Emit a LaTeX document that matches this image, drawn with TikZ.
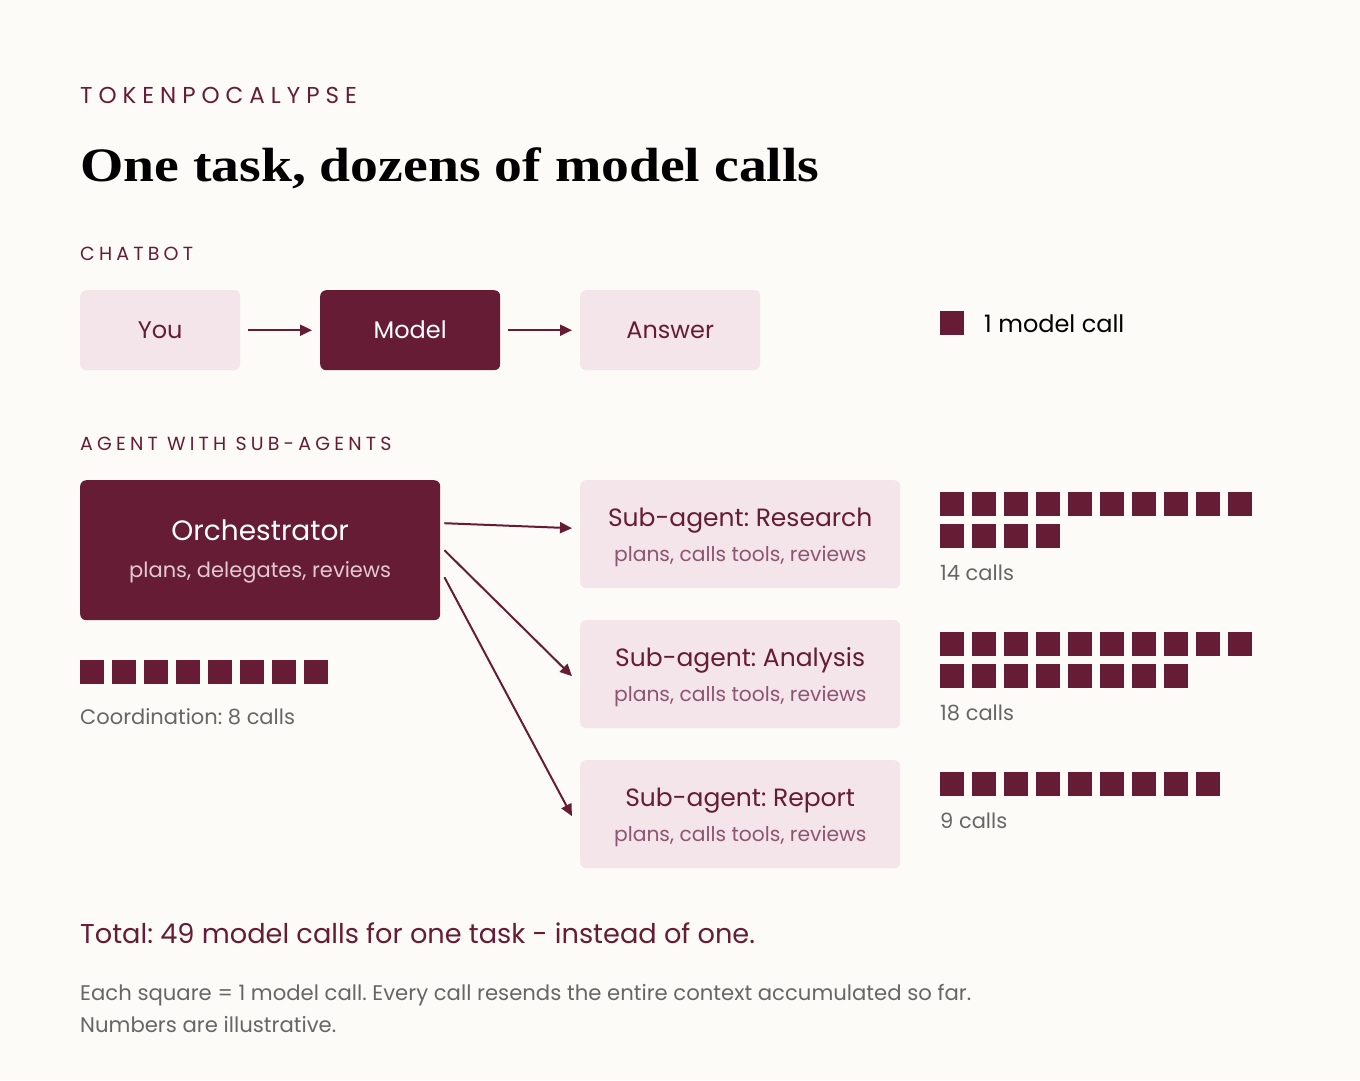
\documentclass[tikz,border=0pt]{standalone}
\usepackage{fontspec}
\setmainfont{Poppins}
\newfontfamily\titlefont{Liberation Serif}
\usetikzlibrary{arrows.meta,calc}
\frenchspacing
\definecolor{bg}{HTML}{FCFBF8}
\definecolor{wine}{HTML}{661C35}
\definecolor{blush}{HTML}{F3E5EA}
\definecolor{mauve}{HTML}{8E5570}
\definecolor{paleblush}{HTML}{E2C9D3}
\definecolor{greytext}{HTML}{666666}
\tikzset{
  x=1pt, y=-1pt,
  lightbox/.style={fill=blush, rounded corners=6pt, draw=none, inner sep=0pt, anchor=north west},
  darkbox/.style={fill=wine, rounded corners=6pt, draw=none, inner sep=0pt, anchor=north west},
  txt/.style={inner sep=0pt, anchor=base west},
  ctxt/.style={inner sep=0pt, anchor=base},
  flow/.style={draw=wine, line width=2pt, -{Triangle[length=12pt,width=11pt]}},
  sq/.style={fill=wine}
}
\newcommand{\sqrow}[3]{% x, y, count
  \foreach \i in {1,...,#3} {\fill[sq] ({#1+(\i-1)*32},#2) rectangle ++(24,24);}
}
\begin{document}
\begin{tikzpicture}
\useasboundingbox[fill=bg] (0,0) rectangle (1360,1080);

% header
\node[txt, text=wine] (kicker) at (80,103) {\fontsize{23}{26}\selectfont\addfontfeature{LetterSpace=26}TOKENPOCALYPSE};
\node[txt] (title) at (80,181) {\scalebox{1.16}[1]{\titlefont\bfseries\fontsize{48}{52}\selectfont One task, dozens of model calls}};

% chatbot
\node[txt, text=wine] (chatlbl) at (80,260) {\fontsize{19}{22}\selectfont\addfontfeature{LetterSpace=22}CHATBOT};
\node[lightbox, minimum width=160pt, minimum height=80pt] (you) at (80,290) {};
\node[ctxt, text=wine] at ($(you.center)+(0,8)$) {\fontsize{24}{28}\selectfont You};
\node[darkbox, minimum width=180pt, minimum height=80pt] (model) at (320,290) {};
\node[ctxt, text=white] at ($(model.center)+(0,8)$) {\fontsize{24}{28}\selectfont Model};
\node[lightbox, minimum width=180pt, minimum height=80pt] (answer) at (580,290) {};
\node[ctxt, text=wine] at ($(answer.center)+(0,8)$) {\fontsize{24}{28}\selectfont Answer};
\draw[flow, shorten <=8pt, shorten >=8pt] (you.east) -- (model.west);
\draw[flow, shorten <=8pt, shorten >=8pt] (model.east) -- (answer.west);

% legend
\fill[sq] (940,311) rectangle ++(24,24);
\node[txt, text=black] (legend) at (984,332) {\fontsize{24}{28}\selectfont 1 model call};

% agent
\node[txt, text=wine] (agentlbl) at (80,450) {\fontsize{19}{22}\selectfont\addfontfeature{LetterSpace=22}AGENT WITH SUB-AGENTS};
\node[darkbox, minimum width=360pt, minimum height=140pt] (orch) at (80,480) {};
\node[ctxt, text=white] at ($(orch.center)+(0,-10)$) {\fontsize{28}{32}\selectfont Orchestrator};
\node[ctxt, text=paleblush] at ($(orch.center)+(0,27)$) {\fontsize{21}{24}\selectfont plans, delegates, reviews};

\node[lightbox, minimum width=320pt, minimum height=108pt] (res) at (580,480) {};
\node[ctxt, text=wine] at ($(res.center)+(0,-8)$) {\fontsize{25}{28}\selectfont Sub-agent: Research};
\node[ctxt, text=mauve] at ($(res.center)+(0,27)$) {\fontsize{20.3}{24}\selectfont plans, calls tools, reviews};

\node[lightbox, minimum width=320pt, minimum height=108pt] (ana) at (580,620) {};
\node[ctxt, text=wine] at ($(ana.center)+(0,-8)$) {\fontsize{25}{28}\selectfont Sub-agent: Analysis};
\node[ctxt, text=mauve] at ($(ana.center)+(0,27)$) {\fontsize{20.3}{24}\selectfont plans, calls tools, reviews};

\node[lightbox, minimum width=320pt, minimum height=108pt] (rep) at (580,760) {};
\node[ctxt, text=wine] at ($(rep.center)+(0,-8)$) {\fontsize{25}{28}\selectfont Sub-agent: Report};
\node[ctxt, text=mauve] at ($(rep.center)+(0,27)$) {\fontsize{20.3}{24}\selectfont plans, calls tools, reviews};

\draw[flow] ($(orch.east)+(4,-27)$) -- ($(res.west)+(-8,-6)$);
\draw[flow] ($(orch.east)+(4,0)$) -- ($(ana.west)+(-8,2)$);
\draw[flow] ($(orch.east)+(4,27)$) -- ($(rep.west)+(-8,2)$);

% squares
\sqrow{80}{660}{8}
\node[txt, text=greytext] (coord) at (80,724) {\fontsize{21}{24}\selectfont Coordination: 8 calls};

\sqrow{940}{492}{10}
\sqrow{940}{524}{4}
\node[txt, text=greytext] (c14) at (940,580) {\fontsize{21}{24}\selectfont 14 calls};

\sqrow{940}{632}{10}
\sqrow{940}{664}{8}
\node[txt, text=greytext] (c18) at (940,720) {\fontsize{21}{24}\selectfont 18 calls};

\sqrow{940}{772}{9}
\node[txt, text=greytext] (c9) at (940,828) {\fontsize{21}{24}\selectfont 9 calls};

% footer
\node[txt, text=wine] (total) at (80,943) {\fontsize{27.2}{30}\selectfont Total: 49 model calls for one task - instead of one.};
\node[txt, text=greytext] (foot1) at (80,1000) {\fontsize{21.2}{24}\selectfont Each square = 1 model call. Every call resends the entire context accumulated so far.};
\node[txt, text=greytext] (foot2) at (80,1032) {\fontsize{21.2}{24}\selectfont Numbers are illustrative.};
\end{tikzpicture}
\end{document}
